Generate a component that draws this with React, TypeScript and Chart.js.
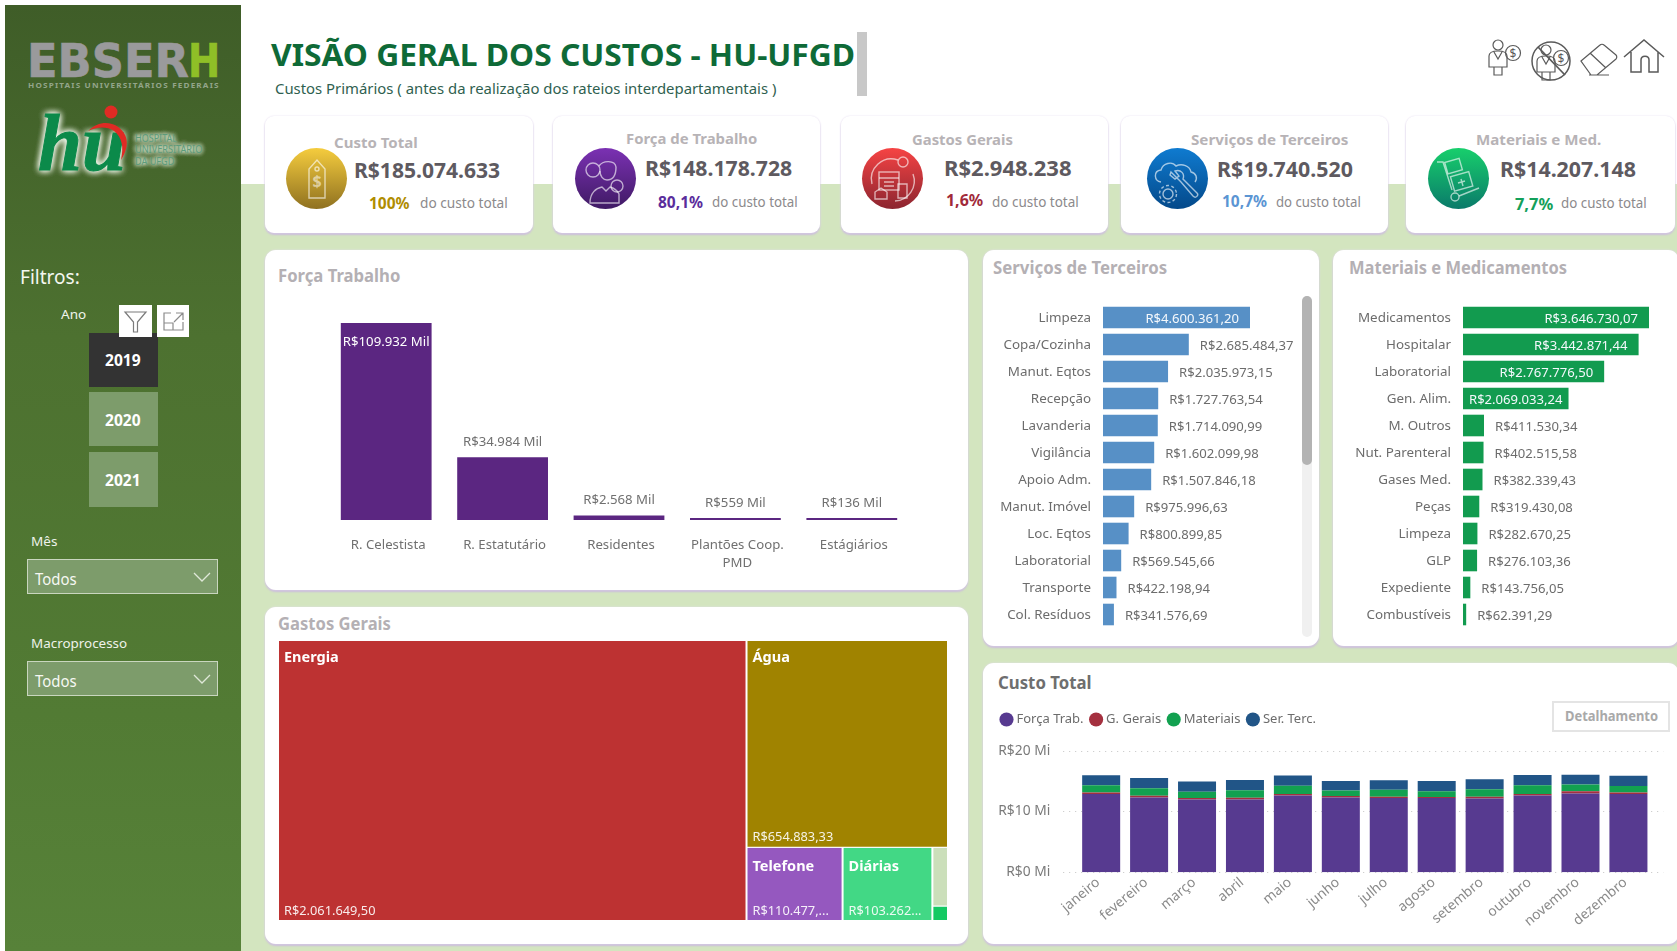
import React, { useEffect, useLayoutEffect, useRef } from "react";
import { Chart, registerables, BarController } from "chart.js";

const FONT = '"Noto Sans", "Open Sans", sans-serif';

// ---------- data ----------
const forcaLabels = ["R. Celestista", "R. Estatutário", "Residentes", ["Plantões Coop.", "PMD"], "Estágiários"];
const forcaValues = [109932, 34984, 2568, 559, 136];

const servLabels = ["Limpeza", "Copa/Cozinha", "Manut. Eqtos", "Recepção", "Lavanderia", "Vigilância", "Apoio Adm.", "Manut. Imóvel", "Loc. Eqtos", "Laboratorial", "Transporte", "Col. Resíduos"];
const servValues = [4600361.2, 2685484.37, 2035973.15, 1727763.54, 1714090.99, 1602099.98, 1507846.18, 975996.63, 800899.85, 569545.66, 422198.94, 341576.69];

const matLabels = ["Medicamentos", "Hospitalar", "Laboratorial", "Gen. Alim.", "M. Outros", "Nut. Parenteral", "Gases Med.", "Peças", "Limpeza", "GLP", "Expediente", "Combustíveis"];
const matValues = [3646730.07, 3442871.44, 2767776.5, 2069033.24, 411530.34, 402515.58, 382339.43, 319430.08, 282670.25, 276103.36, 143756.05, 62391.29];

const gastosLabels = ["Energia", "Água", "Telefone", "Diárias", "", ""];
const gastosValues = [2061649.5, 654883.33, 110477.4, 103262.1, 14400, 3566];
const gastosColors = ["#bd3232", "#a08300", "#9558bf", "#42d885", "#cbdfba", "#14c963"];

const months = ["janeiro", "fevereiro", "março", "abril", "maio", "junho", "julho", "agosto", "setembro", "outubro", "novembro", "dezembro"];
const custoForca = [12.85, 12.3, 11.98, 11.98, 12.63, 12.3, 12.2, 12.2, 12.14, 12.63, 12.95, 12.85];
const custoGerais = [0.27, 0.27, 0.22, 0.27, 0.22, 0.22, 0.22, 0.16, 0.27, 0.22, 0.38, 0.27];
const custoMateriais = [1.19, 1.25, 1.03, 1.25, 1.36, 0.92, 1.14, 0.98, 1.25, 1.46, 1.08, 1.08];
const custoTerceiros = [1.63, 1.68, 1.68, 1.68, 1.68, 1.57, 1.57, 1.68, 1.63, 1.68, 1.63, 1.68];

// ---------- treemap support: a bar controller whose bars have their own width ----------
class CellController extends BarController {
  static id = "cell";
  _calculateBarIndexPixels(index: number, ruler: any) {
    const raw: any = this.getDataset().data[index];
    const a = ruler.scale.getPixelForValue(raw.x - raw.w / 2);
    const b = ruler.scale.getPixelForValue(raw.x + raw.w / 2);
    return { base: a, head: b, center: (a + b) / 2, size: Math.abs(b - a) };
  }
}
Chart.register(...registerables, CellController);

function treemapCells(v: number[]) {
  const total = v.reduce((a, b) => a + b, 0);
  const rest = total - v[0];
  const x1 = v[0] / total;
  const w2 = 1 - x1;
  const h2 = v[1] / rest;
  const low = rest - v[1];
  const wTel = (w2 * v[2]) / low;
  const wDia = (w2 * v[3]) / low;
  const wSm = w2 - wTel - wDia;
  const hSm = v[4] / (v[4] + v[5]);
  const box = (x0: number, w: number, y0: number, y1: number) => ({ x: x0 + w / 2, w, y: [y0, y1] });
  return [
    box(0, x1, 0, 1),
    box(x1, w2, 0, h2),
    box(x1, wTel, h2, 1),
    box(x1 + wTel, wDia, h2, 1),
    box(x1 + wTel + wDia, wSm, h2, h2 + (1 - h2) * hSm),
    box(x1 + wTel + wDia, wSm, h2 + (1 - h2) * hSm, 1),
  ];
}

const brl = (n: number) => "R$" + n.toLocaleString("pt-BR", { minimumFractionDigits: 2, maximumFractionDigits: 2 });

// ---------- small html helpers ----------
function T({ x, y, s, c, b, w, f, style, children }: any) {
  const ref = useRef<HTMLSpanElement>(null);
  useLayoutEffect(() => {
    const el = ref.current;
    if (el && w) el.style.transform = `translateY(-50%) scaleX(${w / el.offsetWidth})`;
  }, [w]);
  return (
    <span
      ref={ref}
      style={{
        position: "absolute", left: x, top: y, transform: "translateY(-50%)", transformOrigin: "left center",
        fontSize: s, color: c, fontWeight: b ? 700 : 400, whiteSpace: "nowrap", lineHeight: 1, fontFamily: f || FONT, ...style,
      }}
    >
      {children}
    </span>
  );
}

const Box = ({ x, y, w, h, style, children }: any) => (
  <div style={{ position: "absolute", left: x, top: y, width: w, height: h, boxSizing: "border-box", ...style }}>{children}</div>
);

const panelStyle = { background: "#fff", borderRadius: 11, boxShadow: "0 0 2px #e4dcee, 0 2px 2px #cbbcdc" };

const CARD_COLORS = ["#b08d00", "#5a2d9c", "#a12a3a", "#5b95d3", "#13a05a"];

function CardIcon({ kind }: { kind: number }) {
  const p = { fill: "none", stroke: "rgba(255,255,255,.62)", strokeWidth: 1.4 };
  if (kind === 0)
    return (
      <svg width="61" height="61" viewBox="0 0 61 61">
        <path d="M23 50V21l8-9 8 9v29z" {...p} />
        <circle cx="31" cy="21" r="2" {...p} />
        <text x="31" y="39" textAnchor="middle" fontSize="16" fontWeight="700" fill="rgba(255,255,255,.55)" fontFamily={FONT}>$</text>
      </svg>
    );
  if (kind === 1)
    return (
      <svg width="61" height="61" viewBox="0 0 61 61">
        <circle cx="18" cy="22" r="7" {...p} />
        <path d="M24 18c4-6 16-6 17 1 0 9-3 13-9 13-4 0-7-4-7-9" {...p} />
        <circle cx="42" cy="38" r="6" {...p} />
        <path d="M15 55c0-10 6-15 12-16l4 4 4-4c4 1 7 3 9 7v9z" {...p} />
      </svg>
    );
  if (kind === 2)
    return (
      <svg width="61" height="61" viewBox="0 0 61 61">
        <rect x="17" y="24" width="20" height="18" {...p} />
        <path d="M17 30h20M22 34h10M22 38h10" {...p} />
        <circle cx="41" cy="14" r="5" {...p} />
        <path d="M10 36a20 20 0 0 1 26-24M51 26a20 20 0 0 1-18 27" {...p} />
        <path d="M13 51v-7l6-4 6 4v7zM36 36h9v14h-9z" {...p} />
      </svg>
    );
  if (kind === 3)
    return (
      <svg width="61" height="61" viewBox="0 0 61 61">
        <path d="M14 34c-7-1-8-11 0-12 2-7 11-9 15-4 6-3 14 0 15 6 5 1 7 6 4 10" {...p} />
        <path d="M24 24l10 10 12 14c3 3 6-1 4-3L36 31c2-5-2-10-8-8l4 5-4 3-5-4z" {...p} />
        <circle cx="21" cy="46" r="5" {...p} />
        <circle cx="21" cy="46" r="8.5" {...p} strokeDasharray="3 2.4" />
      </svg>
    );
  return (
    <svg width="61" height="61" viewBox="0 0 61 61">
      <path d="M9 14h6l9 28" {...p} />
      <circle cx="27" cy="49" r="4" {...p} />
      <path d="M31 48l20-8" {...p} />
      <rect x="18" y="12" width="15" height="12" transform="rotate(-16 26 18)" {...p} />
      <rect x="24" y="26" width="19" height="15" transform="rotate(-16 33 33)" {...p} />
      <path d="M30 35l7-2M33 31l2 7" {...p} />
    </svg>
  );
}

const cards = [
  { cx: 316.5, grad: "#f5cc3e,#8f7120", left: 265, right: 533, t: ["Custo Total", 334, 84, 141.5], v: ["R$185.074.633", 354, 146, 170], p: ["100%", 369, 41, 204], d: [420, 88, 203.5] },
  { cx: 605.5, grad: "#7b31b3,#3f1a64", left: 553, right: 820, t: ["Força de Trabalho", 626, 131, 138], v: ["R$148.178.728", 645, 147, 168], p: ["80,1%", 658, 45, 203], d: [712, 86, 202.5] },
  { cx: 892, grad: "#f64444,#8c2530", left: 841, right: 1108, t: ["Gastos Gerais", 912, 101, 139], v: ["R$2.948.238", 944, 128, 168], p: ["1,6%", 946, 37, 201], d: [992, 87, 202.5] },
  { cx: 1177, grad: "#0f7bd0,#04498a", left: 1121, right: 1388, t: ["Serviços de Terceiros", 1191, 157, 139], v: ["R$19.740.520", 1217, 136, 169], p: ["10,7%", 1222, 45, 202], d: [1276, 85, 202.5] },
  { cx: 1458, grad: "#18cf6c,#0a7a6a", left: 1406, right: 1675, t: ["Materiais e Med.", 1476, 125, 139], v: ["R$14.207.148", 1500, 136, 169], p: ["7,7%", 1515, 38, 205], d: [1561, 86, 204] },
];

const Chevron = ({ x, y }: any) => (
  <svg style={{ position: "absolute", left: x, top: y }} width="18" height="10" viewBox="0 0 18 10">
    <path d="M1 1l8 8 8-8" fill="none" stroke="#dfe8d8" strokeWidth="1.3" />
  </svg>
);

const iconStroke = { fill: "none", stroke: "#5a5a5a", strokeWidth: 1.2 };

function PersonDollar() {
  return (
    <g {...iconStroke}>
      <circle cx="12" cy="7" r="5" />
      <path d="M3 29V18c0-3 3-5 9-5s9 2 9 5v11zM8 29v8h8v-8M8 14l4 7 4-7" />
      <circle cx="27" cy="15" r="7.5" />
      <text x="27" y="19.5" textAnchor="middle" fontSize="12" fill="#5a5a5a" stroke="none" fontFamily={FONT}>$</text>
    </g>
  );
}

export default function App() {
  const forcaRef = useRef<HTMLCanvasElement>(null);
  const servRef = useRef<HTMLCanvasElement>(null);
  const matRef = useRef<HTMLCanvasElement>(null);
  const gastosRef = useRef<HTMLCanvasElement>(null);
  const custoRef = useRef<HTMLCanvasElement>(null);

  useEffect(() => {
    const charts: Chart[] = [];
    const fontCfg = (size: number, extra: any = {}) => ({ family: FONT, size, ...extra });
    const fixAxis = (s: any, prop: "width" | "height", size: number) => {
      s[prop] = size;
      s.paddingTop = 0; s.paddingBottom = 0; s.paddingLeft = 0; s.paddingRight = 0;
    };

    // Força Trabalho
    charts.push(
      new Chart(forcaRef.current!, {
        type: "bar",
        data: {
          labels: forcaLabels as any,
          datasets: [{ data: forcaValues, backgroundColor: "#5b2681", barPercentage: 0.78, categoryPercentage: 1, minBarLength: 2 }],
        },
        options: {
          animation: false, responsive: false, events: [],
          layout: { padding: { top: 23 } },
          plugins: { legend: { display: false }, tooltip: { enabled: false } },
          scales: {
            y: { display: false, min: 0, max: 109932 },
            x: {
              grid: { display: false, drawTicks: false }, border: { display: false },
              ticks: { color: "#707070", font: fontCfg(13.2, { lineHeight: 1.4 }), padding: 16, labelOffset: 2, maxRotation: 0, autoSkip: false },
              afterFit: (s: any) => fixAxis(s, "height", 65),
            },
          },
        },
        plugins: [{
          id: "forcaLabels",
          afterDatasetsDraw(c: any) {
            const ctx = c.ctx;
            ctx.save();
            ctx.font = `13.2px ${FONT}`;
            ctx.textAlign = "center";
            ctx.textBaseline = "middle";
            c.getDatasetMeta(0).data.forEach((b: any, i: number) => {
              const inside = i === 0;
              ctx.fillStyle = inside ? "#fff" : "#707070";
              ctx.fillText(`R$${forcaValues[i].toLocaleString("pt-BR")} Mil`, b.x, inside ? b.y + 19 : b.y - 15);
            });
            ctx.restore();
          },
        }],
      })
    );

    // Horizontal bar panels
    const hbar = (el: HTMLCanvasElement, labels: string[], values: number[], color: string, labelW: number, rightPad: number) =>
      new Chart(el, {
        type: "bar",
        data: { labels, datasets: [{ data: values, backgroundColor: color, barPercentage: 0.8, categoryPercentage: 1 }] },
        options: {
          indexAxis: "y", animation: false, responsive: false, events: [],
          layout: { padding: { right: rightPad } },
          plugins: { legend: { display: false }, tooltip: { enabled: false } },
          scales: {
            x: { display: false, min: 0, max: values[0] },
            y: {
              grid: { display: false, drawTicks: false }, border: { display: false },
              ticks: { color: "#6c6c6c", font: fontCfg(13.4), padding: 12, labelOffset: 1, autoSkip: false },
              afterFit: (s: any) => fixAxis(s, "width", labelW),
            },
          },
        },
        plugins: [{
          id: "hbarLabels",
          afterDatasetsDraw(c: any) {
            const ctx = c.ctx;
            ctx.save();
            ctx.font = `13.1px ${FONT}`;
            ctx.textBaseline = "middle";
            c.getDatasetMeta(0).data.forEach((b: any, i: number) => {
              const txt = brl(values[i]);
              const tw = ctx.measureText(txt).width;
              const bw = b.x - b.base;
              ctx.textAlign = "left";
              if (bw > tw + 4) {
                ctx.fillStyle = "#f4f8fc";
                const x = bw > tw + 22 ? b.x - 11 - tw : b.base + (bw - tw) / 2;
                ctx.fillText(txt, x, b.y + 2);
              } else {
                ctx.fillStyle = "#6c6c6c";
                ctx.fillText(txt, b.x + 11, b.y + 2);
              }
            });
            ctx.restore();
          },
        }],
      });
    charts.push(hbar(servRef.current!, servLabels, servValues, "#5790c6", 120, 53));
    charts.push(hbar(matRef.current!, matLabels, matValues, "#129b4f", 130, 28));

    // Gastos Gerais treemap
    charts.push(
      new Chart(gastosRef.current!, {
        type: "cell" as any,
        data: {
          labels: gastosLabels,
          datasets: [{ data: treemapCells(gastosValues) as any, backgroundColor: gastosColors, borderColor: "#fff", borderWidth: 1 }],
        },
        options: {
          animation: false, responsive: false, events: [],
          plugins: { legend: { display: false }, tooltip: { enabled: false } },
          scales: {
            x: { type: "linear", display: false, min: 0, max: 1, offset: false },
            y: { type: "linear", display: false, min: 0, max: 1, reverse: true },
          },
        } as any,
        plugins: [{
          id: "cellLabels",
          afterDatasetsDraw(c: any) {
            const ctx = c.ctx;
            ctx.save();
            ctx.textBaseline = "middle";
            ctx.textAlign = "left";
            c.getDatasetMeta(0).data.forEach((b: any, i: number) => {
              if (!gastosLabels[i]) return;
              const left = b.x - b.width / 2;
              const top = Math.min(b.y, b.base);
              const bottom = Math.max(b.y, b.base);
              ctx.fillStyle = "#fff";
              ctx.font = `700 14.5px ${FONT}`;
              ctx.fillText(gastosLabels[i], left + 6, top + (i >= 2 ? 19 : 17));
              ctx.font = `12.8px ${FONT}`;
              ctx.fillStyle = "rgba(255,255,255,.9)";
              let txt = brl(gastosValues[i]);
              const maxW = b.width - 15.5;
              if (ctx.measureText(txt).width > maxW - 6) {
                while (txt.length && ctx.measureText(txt + "...").width > maxW) txt = txt.slice(0, -1);
                txt += "...";
              }
              ctx.fillText(txt, left + 6, bottom - 10);
            });
            ctx.restore();
          },
        }],
      })
    );

    // Custo Total stacked
    const stack = (label: string, data: number[], color: string) => ({
      label, data, backgroundColor: color, stack: "s", barPercentage: 0.793, categoryPercentage: 1, borderWidth: 0,
    });
    charts.push(
      new Chart(custoRef.current!, {
        type: "bar",
        data: {
          labels: months,
          datasets: [
            stack("Força Trab.", custoForca, "#573a90"),
            stack("G. Gerais", custoGerais, "#a4303f"),
            stack("Materiais", custoMateriais, "#12a150"),
            stack("Ser. Terc.", custoTerceiros, "#215587"),
          ],
        },
        options: {
          animation: false, responsive: false, events: [],
          layout: { padding: { left: 11, right: 24.6, top: 14 } },
          plugins: {
            tooltip: { enabled: false },
            legend: {
              position: "top", align: "start",
              labels: { usePointStyle: true, pointStyle: "circle", boxWidth: 7, boxHeight: 10, padding: 9, color: "#6c6c6c", font: fontCfg(13) },
            },
          },
          scales: {
            x: {
              stacked: true, grid: { display: false, drawTicks: false }, border: { display: false },
              ticks: { color: "#8a8a8a", font: fontCfg(13.8), minRotation: 40, maxRotation: 40, padding: 2, labelOffset: -3, autoSkip: false },
              afterFit: (s: any) => fixAxis(s, "height", 71.7),
            },
            y: {
              stacked: true, min: 0, max: 22.4,
              grid: { display: false, drawTicks: false }, border: { display: false },
              ticks: { stepSize: 10, includeBounds: false, color: "#7a7a7a", font: fontCfg(13.8), padding: 27, callback: (v: any) => `R$${v} Mi` },
              afterFit: (s: any) => fixAxis(s, "width", 83.2),
            },
          },
        },
        plugins: [{
          id: "dotGrid",
          beforeDatasetsDraw(c: any) {
            const { ctx, chartArea, scales } = c;
            ctx.save();
            ctx.strokeStyle = "#c4c4c4";
            ctx.lineWidth = 1;
            ctx.setLineDash([1, 5]);
            scales.y.ticks.forEach((t: any) => {
              const y = Math.round(scales.y.getPixelForValue(t.value)) + 0.5;
              ctx.beginPath();
              ctx.moveTo(chartArea.left - 14, y);
              ctx.lineTo(chartArea.right + 11, y);
              ctx.stroke();
            });
            ctx.restore();
          },
        }],
      })
    );
    return () => charts.forEach((c) => c.destroy());
  }, []);

  const cv = (x: number, y: number, w: number, h: number, ref: any) => (
    <canvas ref={ref} width={w} height={h} style={{ position: "absolute", left: x, top: y, width: w, height: h, display: "block" }} />
  );

  return (
    <div style={{ position: "absolute", left: 0, top: 0, width: 1677, height: 951, overflow: "hidden", background: "#fff", fontFamily: FONT, filter: "blur(0.45px)" }}>
      {/* page background */}
      <Box x={241} y={184} w={1436} h={767} style={{ background: "#d3e5bf" }} />

      {/* sidebar */}
      <Box x={5} y={5} w={236} h={946} style={{ background: "linear-gradient(180deg,#3f5d28 0%,#4d7130 35%,#527b34 75%,#578239 100%)" }} />
      <T x={27} y={60} s={47} c="#9a9a9c" b w={162} f='"DejaVu Sans"' style={{ WebkitTextStroke: "0.6px #9a9a9c" }}>EBSER</T>
      <T x={188} y={60} s={47} c="#8fbf27" b w={32} f='"DejaVu Sans"' style={{ WebkitTextStroke: "0.6px #8fbf27" }}>H</T>
      <T x={28} y={85} s={7} c="#93a58a" b w={192} style={{ letterSpacing: 1 }}>HOSPITAIS UNIVERSITÁRIOS FEDERAIS</T>
      <T x={38} y={143} s={80} c="#0b8a4a" b w={88} f='"Liberation Serif"' style={{ fontStyle: "italic", WebkitTextStroke: "1px #0b8a4a", textShadow: "0 0 7px #f2f8ec,0 0 7px #f2f8ec,0 0 7px #f2f8ec" }}>hu</T>
      <svg style={{ position: "absolute", left: 80, top: 98.5 }} width="60" height="70" viewBox="0 0 60 70">
        <circle cx="31" cy="13" r="6.5" fill="#e02b24" />
        <path d="M8 32C20 20 36 22 44 34c5 8 3 18-3 27C44 48 42 38 34 32c-8-5-17-4-26 0z" fill="#e02b24" />
      </svg>
      {[["HOSPITAL", 138, 42], ["UNIVERSITÁRIO", 149, 67], ["DA UFGD", 161, 39]].map(([t, y, w]: any) => (
        <T key={t} x={135} y={y} s={10.5} c="#5d9c7c" w={w} style={{ textShadow: "0 0 5px #eaf4e2,0 0 5px #eaf4e2,0 0 5px #eaf4e2" }}>{t}</T>
      ))}

      <T x={20} y={277} s={20} c="#f4f7f0" w={60}>Filtros:</T>
      <T x={61} y={314} s={13} c="#f0f4ec" w={25}>Ano</T>
      <Box x={89} y={333} w={69} h={54} style={{ background: "#333" }} />
      <Box x={89} y={392} w={69} h={54} style={{ background: "#7d9c6b" }} />
      <Box x={89} y={452} w={69} h={55} style={{ background: "#7d9c6b" }} />
      <T x={105} y={360} s={16} c="#fff" b w={36}>2019</T>
      <T x={105} y={420} s={16} c="#fff" b w={36}>2020</T>
      <T x={105} y={480} s={16} c="#fff" b w={36}>2021</T>
      <Box x={119} y={305} w={33} h={32} style={{ background: "#fff" }}>
        <svg width="33" height="32" viewBox="0 0 33 32"><path d="M6 7h21l-8.5 10v10l-4 0V17z" fill="none" stroke="#7b7b7b" strokeWidth="1.2" /></svg>
      </Box>
      <Box x={157} y={305} w={32} h={32} style={{ background: "#fff" }}>
        <svg width="32" height="32" viewBox="0 0 32 32"><path d="M14 8H7v17h19v-8M7 18h9v7M19 8h7v7M26 8l-9 9" fill="none" stroke="#8b8b8b" strokeWidth="1.2" /></svg>
      </Box>
      <T x={31} y={541} s={13} c="#eef2ea" w={26}>Mês</T>
      <Box x={27} y={559} w={191} h={35} style={{ background: "#7d9c6b", border: "1.5px solid #c9d6bf" }} />
      <T x={35} y={579} s={16} c="#f6f8f3" w={42}>Todos</T>
      <Chevron x={193} y={572} />
      <T x={31} y={643} s={13} c="#eef2ea" w={96}>Macroprocesso</T>
      <Box x={27} y={661} w={191} h={35} style={{ background: "#7d9c6b", border: "1.5px solid #c9d6bf" }} />
      <T x={35} y={681} s={16} c="#f6f8f3" w={42}>Todos</T>
      <Chevron x={193} y={674} />

      {/* header */}
      <T x={271} y={54} s={31} c="#0e6a37" b w={584}>VISÃO GERAL DOS CUSTOS - HU-UFGD</T>
      <T x={275} y={88} s={15} c="#2f5f50" w={501}>Custos Primários ( antes da realização dos rateios interdepartamentais )</T>
      <Box x={857} y={32} w={10} h={64} style={{ background: "#c8c8c8" }} />

      <svg style={{ position: "absolute", left: 1486, top: 38 }} width="40" height="42" viewBox="0 0 40 42"><PersonDollar /></svg>
      <svg style={{ position: "absolute", left: 1530, top: 40 }} width="42" height="42" viewBox="0 0 42 42">
        <g transform="translate(4,3)"><PersonDollar /></g>
        <circle cx="21" cy="21" r="19" {...iconStroke} strokeWidth="1.5" />
        <path d="M8 7l27 28" {...iconStroke} strokeWidth="1.8" />
      </svg>
      <svg style={{ position: "absolute", left: 1579, top: 42 }} width="40" height="36" viewBox="0 0 40 36">
        <path d="M2 19L21 3c1-1 3-1 4 0l12 10c1 1 1 3 0 4L18 33H12zM11 11l16 15M10 33h20" {...iconStroke} />
      </svg>
      <svg style={{ position: "absolute", left: 1623, top: 38 }} width="44" height="38" viewBox="0 0 44 38">
        <path d="M1 19L21 2l20 17M8 14v20h10V22c0-5 8-5 8 0v12h9V14" {...iconStroke} strokeWidth="1.5" />
      </svg>

      {/* KPI cards */}
      {cards.map((k, i) => (
        <React.Fragment key={i}>
          <Box x={k.left} y={116} w={k.right - k.left} h={117} style={{ ...panelStyle, borderRadius: 9 }} />
          <Box x={k.cx - 30.5} y={148} w={61} h={61} style={{ borderRadius: "50%", background: `linear-gradient(180deg,${k.grad})` }}>
            <CardIcon kind={i} />
          </Box>
          <T x={k.t[1]} y={k.t[3]} s={15} c="#b7b3b6" b w={k.t[2]}>{k.t[0]}</T>
          <T x={k.v[1]} y={k.v[3]} s={21.5} c="#5e5a60" b w={k.v[2]}>{k.v[0]}</T>
          <T x={k.p[1]} y={k.p[3]} s={15.5} c={CARD_COLORS[i]} b w={k.p[2]}>{k.p[0]}</T>
          <T x={k.d[0]} y={k.d[2]} s={13.5} c="#8c8a8c" w={k.d[1]}>do custo total</T>
        </React.Fragment>
      ))}

      {/* panels */}
      <Box x={265} y={250} w={703} h={340} style={panelStyle} />
      <Box x={265} y={607} w={703} h={337} style={panelStyle} />
      <Box x={983} y={250} w={336} h={396} style={panelStyle} />
      <Box x={1333} y={250} w={346} h={396} style={panelStyle} />
      <Box x={983} y={663} w={696} h={281} style={panelStyle} />

      <T x={278} y={276} s={17.5} c="#b4b0b4" b w={122}>Força Trabalho</T>
      <T x={278} y={623.5} s={17.5} c="#b4b0b4" b w={113}>Gastos Gerais</T>
      <T x={993} y={268} s={17.5} c="#b4b0b4" b w={174}>Serviços de Terceiros</T>
      <T x={1349} y={268} s={17.5} c="#b4b0b4" b w={218}>Materiais e Medicamentos</T>
      <T x={998} y={683} s={17.5} c="#6e6e6e" b w={94}>Custo Total</T>

      {cv(328, 300, 582, 285, forcaRef)}
      {cv(983, 304, 320, 324, servRef)}
      {cv(1333, 304, 344, 324, matRef)}
      {cv(278, 641, 670, 280, gastosRef)}
      {cv(983, 690, 694, 254, custoRef)}

      {/* scrollbar */}
      <Box x={1302} y={296} w={10} h={341} style={{ background: "#f0f0f0", borderRadius: 5 }} />
      <Box x={1302} y={296} w={10} h={169} style={{ background: "#b3b3b3", borderRadius: 5 }} />

      {/* button */}
      <Box x={1552} y={701} w={118} h={31} style={{ border: "2px solid #e4e4e4", background: "#fff" }} />
      <T x={1565} y={717} s={13.5} c="#a9a9a9" b w={93}>Detalhamento</T>
    </div>
  );
}
